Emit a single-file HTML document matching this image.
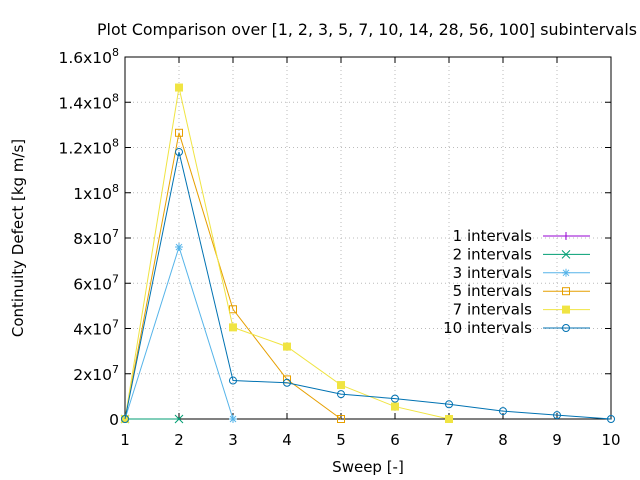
<!DOCTYPE html>
<html><head><meta charset="utf-8"><style>
body{margin:0;background:#fff}
svg{display:block;font-family:"DejaVu Sans","Liberation Sans",sans-serif}
</style></head><body>
<svg id="chart" width="640" height="480"></svg>
<script>
const xTicks=[1,2,3,4,5,6,7,8,9,10];
const yTicks=[0,2e7,4e7,6e7,8e7,1e8,1.2e8,1.4e8,1.6e8];
const yTickLabels=["0","2x10^7","4x10^7","6x10^7","8x10^7","1x10^8","1.2x10^8","1.4x10^8","1.6x10^8"];
const seriesNames=["1 intervals","2 intervals","3 intervals","5 intervals","7 intervals","10 intervals"];
const s1=[0];
const s2=[0,0];
const s3=[0,7.6e7,0];
const s5=[0,1.265e8,4.85e7,1.75e7,0];
const s7=[0,1.465e8,4.05e7,3.2e7,1.5e7,5.5e6,0];
const s10=[0,1.18e8,1.7e7,1.6e7,1.1e7,9e6,6.5e6,3.5e6,1.7e6,0];
const seriesValues=[s1,s2,s3,s5,s7,s10];
const colors=["#9400d3","#009e73","#56b4e9","#e69f00","#f0e442","#0072b2"];
const markers=["plus","cross","star","sq","fsq","circ"];
const X0=125,X1=611,Y0=419,Y1=57;
const xs=v=>X0+(v-1)/9*(X1-X0);
const ys=v=>Y0-v/1.6e8*(Y0-Y1);
const svg=document.getElementById('chart');
const NS="http://www.w3.org/2000/svg";
function mk(t,a,p){const e=document.createElementNS(NS,t);for(const k in a)e.setAttribute(k,a[k]);(p||svg).appendChild(e);return e;}
xTicks.forEach(v=>{if(v>1&&v<10){const l=mk('line',{x1:xs(v),x2:xs(v),y1:Y0,y2:Y1,stroke:'#bbb','stroke-dasharray':'1,3','stroke-width':1});

}});
yTicks.forEach(v=>{if(v>0&&v<1.6e8){const l=mk('line',{x1:X0,x2:X1,y1:ys(v),y2:ys(v),stroke:'#bbb','stroke-dasharray':'1,3','stroke-width':1});

}});
xTicks.forEach(v=>{mk('line',{x1:xs(v),x2:xs(v),y1:Y0,y2:Y0-6,stroke:'#000'});mk('line',{x1:xs(v),x2:xs(v),y1:Y1,y2:Y1+6,stroke:'#000'});
const t=mk('text',{x:xs(v),y:445,'text-anchor':'middle','font-size':15});t.textContent=v;

});
yTicks.forEach((v,i)=>{mk('line',{x1:X0,x2:X0+6,y1:ys(v),y2:ys(v),stroke:'#000'});mk('line',{x1:X1,x2:X1-6,y1:ys(v),y2:ys(v),stroke:'#000'});
const t=mk('text',{x:119,y:ys(v)+6,'text-anchor':'end','font-size':15.5});
const p=yTickLabels[i].split('^');
t.textContent=p[0];
if(p[1]){const s=mk('tspan',{dy:-7,'font-size':11},t);s.textContent=p[1];}

});
const fr=mk('rect',{x:X0,y:Y1,width:X1-X0,height:Y0-Y1,fill:'none',stroke:'#000'});


function marker(type,x,y,c,g){
 if(type=='plus'){mk('path',{d:`M${x-4} ${y}h8M${x} ${y-4}v8`,stroke:c},g);}
 else if(type=='cross'){mk('path',{d:`M${x-4} ${y-4}l8 8M${x-4} ${y+4}l8 -8`,stroke:c},g);}
 else if(type=='star'){mk('path',{d:`M${x-4} ${y}h8M${x} ${y-4}v8M${x-3} ${y-3}l6 6M${x-3} ${y+3}l6 -6`,stroke:c},g);}
 else if(type=='sq'){mk('rect',{x:x-3.5,y:y-3.5,width:7,height:7,fill:'none',stroke:c},g);}
 else if(type=='fsq'){mk('rect',{x:x-4,y:y-4,width:8,height:8,fill:c},g);}
 else {mk('circle',{cx:x,cy:y,r:3.5,fill:'none',stroke:c},g);}
}
seriesValues.forEach((vals,si)=>{
 const g=mk('g',{});
 
 
 mk('polyline',{points:vals.map((v,i)=>xs(i+1)+','+ys(v)).join(' '),fill:'none',stroke:colors[si],'stroke-width':1},g);
 vals.forEach((v,i)=>marker(markers[si],xs(i+1),ys(v),colors[si],g));
 const ly=236+si*18.4;
 const lg=mk('g',{});
 
 
 const t=mk('text',{x:532,y:ly+5,'text-anchor':'end','font-size':15},lg);t.textContent=seriesNames[si];
 mk('line',{x1:543,x2:590,y1:ly,y2:ly,stroke:colors[si]},lg);
 marker(markers[si],566,ly,colors[si],lg);
});
const tt=mk('text',{x:367,y:35,'text-anchor':'middle','font-size':15.8});tt.textContent='Plot Comparison over [1, 2, 3, 5, 7, 10, 14, 28, 56, 100] subintervals';


const xt=mk('text',{x:368,y:472,'text-anchor':'middle','font-size':15});xt.textContent='Sweep [-]';


const yt=mk('text',{x:0,y:0,'text-anchor':'middle','font-size':15,transform:'translate(23,238) rotate(-90)'});yt.textContent='Continuity Defect [kg m/s]';


</script>
</body></html>
